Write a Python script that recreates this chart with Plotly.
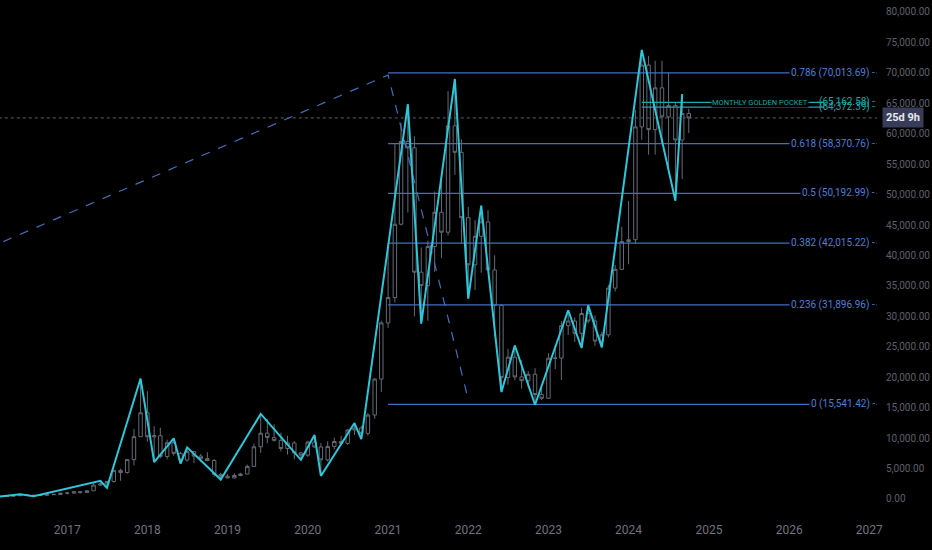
import plotly.graph_objects as go

# monthly candles (BTC), Jan 2016 -> Oct 2024
months = [f"{y}-{m:02d}-01" for y in range(2016, 2025) for m in range(1, 13)][:106]

opens = [430, 369, 437, 416, 448, 531, 673, 624, 575, 609, 701, 742,
         963, 970, 1190, 1079, 1348, 2286, 2481, 2875, 4703, 4338, 6468, 10233,
         14156, 10221, 10397, 6973, 9240, 7494, 6404, 7780, 7037, 6625, 6318, 4017,
         3742, 3457, 3854, 4105, 5350, 8574, 10817, 10085, 9630, 8293, 9199, 7569,
         7193, 9350, 8543, 6424, 8630, 9448, 9138, 11335, 11650, 10776, 13791, 19695,
         28923, 33092, 45135, 58740, 57694, 37253, 35045, 41462, 47100, 43824, 61300, 56950,
         46216, 38466, 43160, 45510, 37630, 31801, 19942, 23293, 20050, 19423, 20490, 17164,
         16542, 23125, 23141, 28465, 29233, 27210, 30472, 29232, 25940, 26962, 34640, 37723,
         42283, 42580, 61130, 71280, 60672, 67540, 62772, 64619, 58969, 63327]
highs = [462, 448, 439, 467, 549, 778, 704, 626, 628, 737, 755, 979,
         1153, 1217, 1290, 1351, 2763, 2980, 2916, 4736, 4975, 6470, 11517, 19783,
         17712, 11958, 11711, 9745, 9964, 7754, 8474, 7760, 7388, 7680, 6553, 4309,
         4109, 4210, 4296, 5642, 9074, 13970, 13129, 12273, 10905, 10370, 9505, 7743,
         9578, 10500, 9188, 9460, 10067, 10380, 11444, 12468, 12050, 14100, 19863, 29300,
         41950, 58352, 61788, 64854, 59595, 41330, 42448, 50500, 52920, 67000, 69000, 59053,
         47990, 45821, 48189, 47444, 40023, 31982, 24668, 25211, 22799, 20988, 21480, 18387,
         23960, 25250, 29190, 31000, 29820, 31431, 31804, 30176, 27483, 35198, 38450, 44700,
         48969, 63913, 73777, 72797, 71979, 71997, 70079, 65105, 66498, 64130]
lows = [350, 365, 394, 412, 441, 527, 612, 470, 570, 605, 681, 741,
        752, 941, 891, 1063, 1348, 2155, 1837, 2681, 2981, 4166, 5519, 10233,
        9402, 6048, 6675, 6526, 7090, 5826, 6111, 5880, 6111, 6205, 3652, 3191,
        3400, 3400, 3733, 4081, 5339, 7564, 9163, 9421, 7830, 7300, 6515, 6435,
        6914, 8450, 3782, 6150, 8117, 8833, 8893, 10518, 9825, 10416, 13195, 17572,
        28130, 32296, 44950, 47044, 30000, 28805, 29278, 37332, 39600, 43283, 53256, 42000,
        32917, 34322, 37155, 37578, 26700, 17567, 18781, 19520, 18125, 18190, 15476, 16256,
        16500, 21350, 19549, 26942, 25811, 24800, 28862, 25166, 24900, 26538, 34100, 37600,
        38555, 41884, 59005, 56552, 56555, 58402, 53485, 49000, 52550, 60100]
closes = [369, 437, 416, 448, 531, 673, 624, 575, 609, 701, 742, 963,
          970, 1190, 1079, 1348, 2286, 2481, 2875, 4703, 4338, 6468, 10233, 14156,
          10221, 10397, 6973, 9240, 7494, 6404, 7780, 7037, 6625, 6318, 4017, 3742,
          3457, 3854, 4105, 5350, 8574, 10817, 10085, 9630, 8293, 9199, 7569, 7193,
          9350, 8543, 6424, 8630, 9448, 9138, 11335, 11650, 10776, 13791, 19695, 28923,
          33092, 45135, 58740, 57694, 37253, 35045, 41462, 47100, 43824, 61300, 56950, 46216,
          38466, 43160, 45510, 37630, 31801, 19942, 23293, 20050, 19423, 20490, 17164, 16542,
          23125, 23141, 28465, 29233, 27210, 30472, 29232, 25940, 26962, 34640, 37723, 42283,
          42580, 61130, 71280, 60672, 67540, 62772, 64619, 58969, 63327, 62600]

# zigzag pivots
zz_dates = ["2016-03-01", "2016-06-01", "2016-08-01", "2017-06-01", "2017-07-01", "2017-12-01",
            "2018-02-01", "2018-05-01", "2018-06-01", "2018-07-01", "2018-12-01", "2019-06-01",
            "2019-12-01", "2020-02-01", "2020-03-01", "2020-08-01", "2020-09-01", "2021-04-01",
            "2021-06-01", "2021-11-01", "2022-01-01", "2022-03-01", "2022-06-01", "2022-08-01",
            "2022-11-01", "2023-04-01", "2023-06-01", "2023-07-01", "2023-09-01", "2024-03-01",
            "2024-08-01", "2024-09-01"]
zz_prices = [394, 778, 470, 2980, 1837, 19783,
             6048, 9964, 5826, 8474, 3191, 13970,
             6435, 10500, 3782, 12468, 9825, 64854,
             28805, 69000, 32917, 48189, 17567, 25211,
             15476, 31000, 24800, 31804, 24900, 73777,
             49000, 66498]

# trend-based fib drawing (dashed legs)
leg_dates = ["2016-01-01", "2021-01-01", "2022-01-01"]
leg_prices = [41100, 69650, 16300]

fib_ratios = ["0", "0.236", "0.382", "0.5", "0.618", "0.786"]
fib_prices = [15541.42, 31896.96, 42015.22, 50192.99, 58370.76, 70013.69]
fib_start = "2021-01-01"

gp_prices = [65162.58, 64372.39]
gp_start, gp_end = "2024-03-01", "2026-06-10"

last_price = 62600
x_end = "2027-02-05"

font = "Liberation Sans Narrow, Roboto, sans-serif"
fib_col = "#3f6fc4"
gp_col = "#1fa8a8"

fig = go.Figure()

fig.add_trace(go.Candlestick(
    x=months, open=opens, high=highs, low=lows, close=closes,
    increasing=dict(line=dict(color="#666a74", width=1), fillcolor="rgba(0,0,0,0)"),
    decreasing=dict(line=dict(color="#666a74", width=1), fillcolor="rgba(0,0,0,0)"),
    hoverinfo="skip", showlegend=False,
))

# current price dotted line
fig.add_trace(go.Scatter(x=["2016-01-01", x_end], y=[last_price, last_price], mode="lines",
                         line=dict(color="#5a5d66", width=1, dash="dot"),
                         hoverinfo="skip", showlegend=False))

for r, p in zip(fib_ratios, fib_prices):
    fig.add_trace(go.Scatter(x=[fib_start, x_end], y=[p, p], mode="lines",
                             line=dict(color=fib_col, width=1.2),
                             hoverinfo="skip", showlegend=False))
    fig.add_annotation(x=1, xref="paper", y=p, yref="y", xanchor="right",
                       text=f"{r} ({p:,.2f}) -", showarrow=False, bgcolor="#000000",
                       borderpad=1, font=dict(family=font, size=10, color="#4f7fd6"))

for p in gp_prices:
    fig.add_trace(go.Scatter(x=[gp_start, gp_end], y=[p, p], mode="lines",
                             line=dict(color=gp_col, width=1.2),
                             hoverinfo="skip", showlegend=False))
    fig.add_annotation(x=1, xref="paper", y=p, yref="y", xanchor="right",
                       text=f"({p:,.2f}) -", showarrow=False,
                       font=dict(family=font, size=10, color=gp_col))

fig.add_annotation(x="2025-08-20", y=gp_prices[0], text="MONTHLY GOLDEN POCKET", showarrow=False,
                   bgcolor="#000000", borderpad=0, font=dict(family=font, size=7.5, color=gp_col))

fig.add_trace(go.Scatter(x=leg_dates, y=leg_prices, mode="lines",
                         line=dict(color="#4a6cb8", width=1.2, dash="dash"),
                         hoverinfo="skip", showlegend=False))

fig.add_trace(go.Scatter(x=zz_dates, y=zz_prices, mode="lines",
                         line=dict(color="#2ec6d8", width=2),
                         hoverinfo="skip", showlegend=False))

# countdown badge on the price scale
fig.add_annotation(x=1, xref="paper", y=last_price, yref="y", xanchor="left", xshift=5,
                   text="<b>25d 9h</b>", showarrow=False, bgcolor="#383c58", borderpad=3,
                   font=dict(family=font, size=11, color="#e8e8ee"))

years = [str(y) for y in range(2017, 2028)]
fig.update_layout(
    width=932, height=550,
    margin=dict(l=0, r=55, t=0, b=33),
    paper_bgcolor="#000000", plot_bgcolor="#000000",
    font=dict(family=font, color="#6c6f78", size=12),
    boxgap=0.2,
    xaxis=dict(type="date", range=["2016-03-01", x_end],
               tickvals=[f"{y}-01-01" for y in years], ticktext=years,
               showgrid=False, zeroline=False, showline=False, ticks="",
               ticklabelstandoff=4,
               rangeslider=dict(visible=False), tickfont=dict(size=12, color="#70737c")),
    yaxis=dict(side="right", range=[-2960, 81970],
               tickvals=list(range(0, 80001, 5000)), tickformat=",.2f",
               showgrid=False, zeroline=False, showline=False,
               ticks="outside", ticklen=6, tickcolor="#000000",
               tickfont=dict(size=10, color="#5e616a")),
    showlegend=False,
)

fig.write_html("out.html", config={"displayModeBar": False},
               post_script="document.body.style.margin='0';")
